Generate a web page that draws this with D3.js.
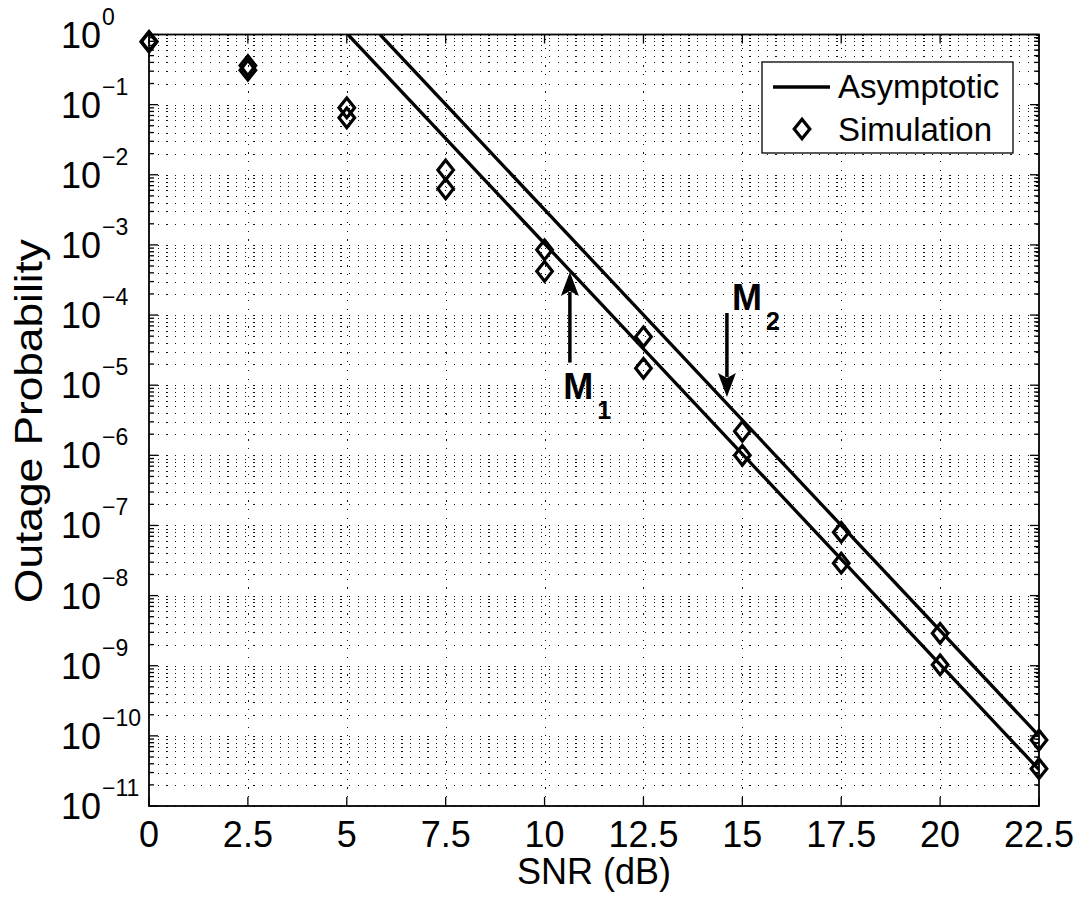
<!DOCTYPE html>
<meta charset="utf-8">
<style>
body { margin: 0; background: #fff; }
text { font-family: "Liberation Sans", Arial, Helvetica, sans-serif; fill: #000; }
.grid line { stroke: #111; stroke-width: 1; stroke-dasharray: 1.2,7.5; shape-rendering: crispEdges; }
.tick-mark { stroke: #000; stroke-width: 1.3; }
.asym { fill: none; stroke: #000; stroke-width: 3.3; }
.sim { fill: none; stroke: #000; stroke-width: 3.2; }
.arrow { stroke: #000; stroke-width: 3.5; }
</style>
<body>
<script src="https://d3js.org/d3.v7.min.js"></script>
<script>

// ---- data ----
var snrTicks = [0, 2.5, 5, 7.5, 10, 12.5, 15, 17.5, 20, 22.5];
var decades = [0, -1, -2, -3, -4, -5, -6, -7, -8, -9, -10, -11];

var simSnr = [0, 2.5, 5, 7.5, 10, 12.5, 15, 17.5, 20, 22.5];
var simM2 = [0.80, 0.36, 0.090, 0.0117, 8.5e-4, 4.9e-5, 2.2e-6, 8.0e-8, 2.9e-9, 8.7e-11];
var simM1 = [0.78, 0.31, 0.065, 0.0063, 4.2e-4, 1.74e-5, 1.0e-6, 2.9e-8, 1.03e-9, 3.4e-11];

var asymM1 = [{snr: 5.03, p: 1}, {snr: 22.5, p: 3.3e-11}];
var asymM2 = [{snr: 5.84, p: 1}, {snr: 22.5, p: 1.0e-10}];

// arrows: x, from p, to p; label position lx, lp
var arrows = [
  {name: "1", x: 10.64, from: 2.1e-5, to: 4.1e-4, lx: 10.47, lp: 6.4e-6},
  {name: "2", x: 14.61, from: 1.07e-4, to: 6.8e-6, lx: 14.74, lp: 1.18e-4}
];

// ---- layout ----
var width = 1083, height = 897;
var mLeft = 149, mRight = 1039, mTop = 34.5, mBottom = 806;

var x = d3.scaleLinear().domain([0, 22.5]).range([mLeft, mRight]);
var y = d3.scaleLog().domain([1e-11, 1]).range([mBottom, mTop]);

var svg = d3.select("body").append("svg")
    .attr("width", width)
    .attr("height", height);

svg.append("rect").attr("width", width).attr("height", height).attr("fill", "#fff");

svg.append("clipPath").attr("id", "plot")
  .append("rect")
    .attr("x", mLeft).attr("y", mTop)
    .attr("width", mRight - mLeft).attr("height", mBottom - mTop);

// grid
var minorVals = [];
decades.forEach(function(e) {
  if (e === 0) return;
  for (var k = 1; k <= 9; k++) minorVals.push(k * Math.pow(10, e));
});
minorVals.push(1);

var grid = svg.append("g").attr("class", "grid");
grid.selectAll(".h").data(minorVals).enter().append("line")
    .attr("x1", mLeft).attr("x2", mRight)
    .attr("y1", function(d) { return Math.round(y(d)) + 0.5; })
    .attr("y2", function(d) { return Math.round(y(d)) + 0.5; });
grid.selectAll(".v").data(snrTicks.slice(1, -1)).enter().append("line")
    .attr("y1", mBottom).attr("y2", mTop)
    .attr("x1", function(d) { return Math.round(x(d)) + 0.5; })
    .attr("x2", function(d) { return Math.round(x(d)) + 0.5; });

// ticks (box on all four sides)
var ticks = svg.append("g");
snrTicks.forEach(function(d) {
  ticks.append("line").attr("class", "tick-mark")
    .attr("x1", x(d)).attr("x2", x(d)).attr("y1", mBottom).attr("y2", mBottom - 9);
  ticks.append("line").attr("class", "tick-mark")
    .attr("x1", x(d)).attr("x2", x(d)).attr("y1", mTop).attr("y2", mTop + 9);
});
minorVals.forEach(function(d) {
  var major = Math.abs(Math.log10(d) - Math.round(Math.log10(d))) < 1e-9;
  var len = major ? 9 : 5;
  ticks.append("line").attr("class", "tick-mark")
    .attr("x1", mLeft).attr("x2", mLeft + len).attr("y1", y(d)).attr("y2", y(d));
  ticks.append("line").attr("class", "tick-mark")
    .attr("x1", mRight).attr("x2", mRight - len).attr("y1", y(d)).attr("y2", y(d));
});

svg.append("rect")
    .attr("x", mLeft).attr("y", mTop)
    .attr("width", mRight - mLeft).attr("height", mBottom - mTop)
    .attr("fill", "none").attr("stroke", "#000").attr("stroke-width", 1.8);

// tick labels
svg.append("g").selectAll("text").data(snrTicks).enter().append("text")
    .attr("x", function(d) { return x(d); })
    .attr("y", 847)
    .attr("text-anchor", "middle")
    .style("font-size", "36px")
    .text(function(d) { return d; });

var yl = svg.append("g").selectAll("g").data(decades).enter().append("g")
    .attr("transform", function(d) { return "translate(0," + y(Math.pow(10, d)) + ")"; });
yl.append("text")
    .attr("x", 101).attr("y", 13)
    .attr("text-anchor", "end")
    .style("font-size", "36px")
    .text("10");
yl.append("text")
    .attr("x", 102).attr("y", -10)
    .style("font-size", "23px")
    .text(function(d) { return d === 0 ? "0" : "\u2212" + (-d); });

// axis titles
svg.append("text")
    .attr("x", (mLeft + mRight) / 2).attr("y", 884)
    .attr("text-anchor", "middle")
    .style("font-size", "36px")
    .text("SNR (dB)");

svg.append("text")
    .attr("transform", "translate(42," + 421 + ") rotate(-90)")
    .attr("text-anchor", "middle")
    .attr("textLength", 364)
    .attr("lengthAdjust", "spacingAndGlyphs")
    .style("font-size", "38px")
    .text("Outage Probability");

// asymptotic lines
var line = d3.line()
    .x(function(d) { return x(d.snr); })
    .y(function(d) { return y(d.p); });

var plot = svg.append("g").attr("clip-path", "url(#plot)");
[asymM1, asymM2].forEach(function(s) {
  plot.append("path").attr("class", "asym").attr("d", line(s));
});

// simulation markers
function diamond(cx, cy) {
  var w = 7.8, h = 9.8;
  return "M" + cx + "," + (cy - h) + "L" + (cx + w) + "," + cy +
         "L" + cx + "," + (cy + h) + "L" + (cx - w) + "," + cy + "Z";
}
[simM2, simM1].forEach(function(s) {
  svg.append("g").selectAll("path").data(s).enter().append("path")
      .attr("class", "sim")
      .attr("d", function(d, i) { return diamond(x(simSnr[i]), y(d)); });
});

// annotations
arrows.forEach(function(a) {
  var x0 = x(a.x), y0 = y(a.from), y1 = y(a.to);
  var dir = y1 < y0 ? 1 : -1;   // 1 = pointing up
  var headLen = 24, headW = 9;
  svg.append("line").attr("class", "arrow")
      .attr("x1", x0).attr("x2", x0)
      .attr("y1", y0).attr("y2", y1 + dir * (headLen - 4));
  svg.append("path")
      .attr("d", "M" + x0 + "," + y1 +
                 "L" + (x0 + headW) + "," + (y1 + dir * headLen) +
                 "L" + x0 + "," + (y1 + dir * (headLen - 5)) +
                 "L" + (x0 - headW) + "," + (y1 + dir * headLen) + "Z")
      .attr("fill", "#000");
  var t = svg.append("text")
      .attr("x", x(a.lx)).attr("y", y(a.lp))
      .style("font-size", "36px")
      .style("font-weight", "bold");
  t.append("tspan").text("M");
  t.append("tspan").attr("dx", 4).attr("dy", 20).style("font-size", "25px").text(a.name);
});

// legend
var lg = svg.append("g");
lg.append("rect")
    .attr("x", 762).attr("y", 62).attr("width", 251).attr("height", 91)
    .attr("fill", "#fff").attr("stroke", "#000").attr("stroke-width", 1.3);
lg.append("line").attr("class", "asym")
    .attr("x1", 773).attr("x2", 830).attr("y1", 87).attr("y2", 87);
lg.append("text").attr("x", 838).attr("y", 98)
    .style("font-size", "33px").text("Asymptotic");
lg.append("path").attr("class", "sim").attr("d", diamond(802, 129));
lg.append("text").attr("x", 838).attr("y", 141)
    .style("font-size", "33px").text("Simulation");

</script>
</body>
